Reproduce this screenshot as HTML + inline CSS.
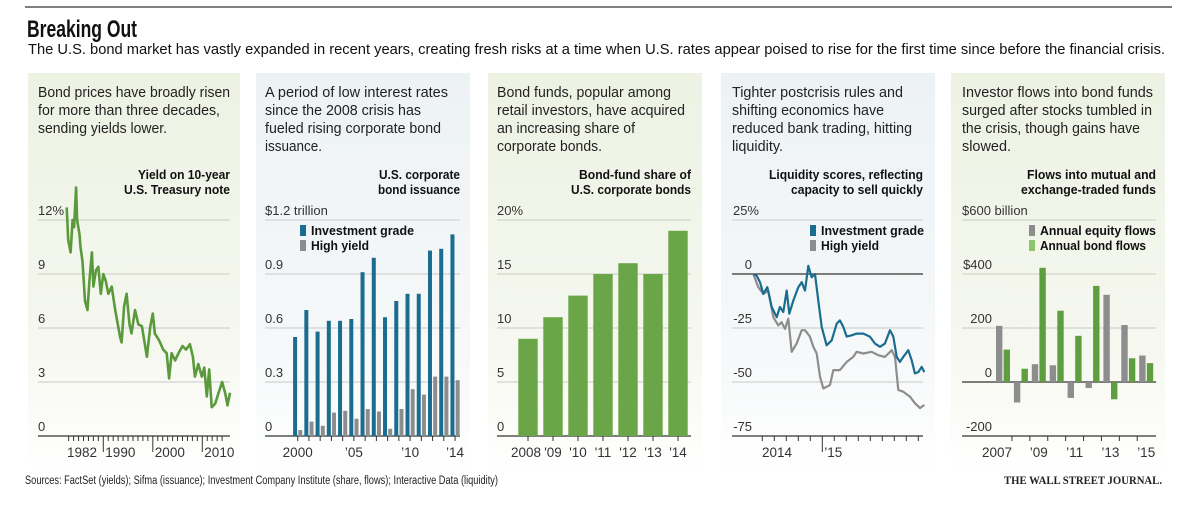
<!DOCTYPE html>
<html><head><meta charset="utf-8"><style>
html,body{margin:0;padding:0;background:#fff;}
svg{display:block;font-family:"Liberation Sans",sans-serif;}
</style></head><body>
<svg id="c" width="1200" height="514" viewBox="0 0 1200 514" xmlns="http://www.w3.org/2000/svg">
<defs>
<linearGradient id="gg" x1="0" y1="0" x2="0" y2="1"><stop offset="0" stop-color="#edf2e3"/><stop offset="0.7" stop-color="#f6f8f0"/><stop offset="1" stop-color="#ffffff"/></linearGradient>
<linearGradient id="gb" x1="0" y1="0" x2="0" y2="1"><stop offset="0" stop-color="#edf2f5"/><stop offset="0.7" stop-color="#f6f8f9"/><stop offset="1" stop-color="#ffffff"/></linearGradient>
</defs>
<line x1="25" y1="7" x2="1172" y2="7" stroke="#333" stroke-width="1.2"/>
<text x="27" y="37" font-size="24" font-weight="bold" textLength="110" lengthAdjust="spacingAndGlyphs" fill="#111">Breaking Out</text>
<text x="28" y="54" font-size="14.5" textLength="1137" lengthAdjust="spacingAndGlyphs" fill="#111">The U.S. bond market has vastly expanded in recent years, creating fresh risks at a time when U.S. rates appear poised to rise for the first time since before the financial crisis.</text>
<g id="panels"></g>
<text x="25" y="484" font-size="11.5" textLength="473" lengthAdjust="spacingAndGlyphs" fill="#222">Sources: FactSet (yields); Sifma (issuance); Investment Company Institute (share, flows); Interactive Data (liquidity)</text>
<text x="1004" y="484" font-size="12" font-weight="bold" font-family="Liberation Serif, serif" textLength="158" lengthAdjust="spacingAndGlyphs" fill="#222">THE WALL STREET JOURNAL.</text>
</svg>
<script>
// ---- Panel 1: 10-year Treasury yield ----
const yieldYears=[1982.6,1982.9,1983.4,1983.8,1984.1,1984.5,1984.7,1985.2,1985.4,1985.8,1986.3,1986.8,1987.2,1987.7,1988.0,1988.5,1989.0,1989.5,1990.0,1990.5,1991.0,1991.7,1992.4,1993.4,1993.7,1994.2,1994.7,1995.3,1995.7,1996.4,1997.1,1997.8,1998.8,1999.5,2000.0,2000.4,2001.3,2002.1,2002.8,2003.3,2003.8,2004.5,2005.2,2006.0,2006.7,2007.5,2008.1,2008.5,2009.2,2009.9,2010.4,2010.9,2011.4,2011.9,2012.6,2013.3,2014.0,2014.6,2015.1,2015.6];
const yieldValues=[12.7,10.9,10.2,12.0,11.6,13.8,12.0,11.2,10.5,9.7,7.5,7.0,8.6,10.2,8.3,9.2,9.4,7.9,9.0,8.6,7.9,8.3,7.0,5.5,5.2,7.2,7.9,6.2,5.7,7.0,6.2,6.1,4.4,6.1,6.8,5.7,5.3,4.8,4.6,3.2,4.6,4.2,4.6,5.0,4.8,5.1,4.4,3.3,4.0,3.3,3.8,2.2,3.7,1.6,1.8,2.4,3.0,2.4,1.7,2.4];
const yieldTicks=[0,3,6,9,12];
// ---- Panel 2: corporate issuance ----
const issYears=[2000,2001,2002,2003,2004,2005,2006,2007,2008,2009,2010,2011,2012,2013,2014];
const issIG=[0.55,0.70,0.58,0.64,0.64,0.65,0.91,0.99,0.66,0.75,0.79,0.79,1.03,1.04,1.12];
const issHY=[0.033,0.08,0.057,0.13,0.14,0.096,0.15,0.136,0.04,0.15,0.26,0.23,0.33,0.33,0.31];
const issTicks=[0,0.3,0.6,0.9,1.2];
const issTickLabels=["0","0.3","0.6","0.9","$1.2 trillion"];
// ---- Panel 3: bond-fund share ----
const shareYears=["2008","'09","'10","'11","'12","'13","'14"];
const shareValues=[9,11,13,15,16,15,19];
const shareTicks=[0,5,10,15,20];
const shareTickLabels=["0","5","10","15","20%"];
// ---- Panel 4: liquidity scores (months relative to Jan 2015) ----
const igMonths=[-5.75,-5.47,-5.19,-4.92,-4.58,-4.22,-3.8,-3.53,-3.25,-2.97,-2.75,-2.42,-2.0,-1.72,-1.44,-1.17,-0.89,-0.61,-0.33,-0.05,0.36,0.78,1.2,1.47,1.75,2.03,2.45,2.86,3.42,3.97,4.39,4.81,5.22,5.64,5.92,6.2,6.47,6.75,7.17,7.45,7.72,8.0,8.28,8.5];
const igValues=[0,-0.8,-3.8,-9.2,-6.1,-15.3,-20,-15.3,-17.6,-7.7,-18.4,-12.3,-6.1,-3.8,-7.7,3.8,-1.5,0,-12.3,-24.5,-33,-30.7,-23,-21.5,-24.5,-29,-28.4,-27.6,-27.6,-29,-32.2,-33.7,-32.2,-26,-29,-38.4,-40.7,-38.4,-35.3,-40,-46,-45.4,-43,-45.4];
const hyMonths=[-5.75,-5.33,-4.92,-4.5,-4.08,-3.67,-3.39,-3.11,-2.83,-2.55,-2.14,-1.72,-1.44,-1.03,-0.75,-0.47,-0.19,0.08,0.64,0.92,1.47,2.03,2.58,2.86,3.42,4.11,4.67,5.22,5.78,6.06,6.33,6.75,7.31,7.72,8.14,8.5];
const hyValues=[0,-6.1,-9.2,-7.7,-20,-23.8,-22.3,-25.4,-20.7,-36,-32.2,-26,-26,-29,-33.7,-36.8,-47.5,-53,-51.4,-44.5,-44.5,-40.7,-38.4,-36,-36.8,-36,-37.6,-38.4,-35.3,-38.4,-53.7,-54.5,-56.8,-59.8,-62.1,-60.6];
const liqTicks=[-75,-50,-25,0,25];
const liqTickLabels=["-75","-50","-25","0","25%"];
// ---- Panel 5: fund flows ----
const flowYears=[2007,2008,2009,2010,2011,2012,2013,2014,2015];
const flowEquity=[208,-76,66,62,-59,-22,323,211,98];
const flowBond=[120,49,423,264,171,356,-64,88,70];
const flowTicks=[-200,0,200,400,600];
const flowTickLabels=["-200","0","200","$400","$600 billion"];

const NS="http://www.w3.org/2000/svg";
const root=document.getElementById('panels');
function mk(tag,attrs,parent,txt){const e=document.createElementNS(NS,tag);for(const k in attrs)e.setAttribute(k,attrs[k]);if(txt!==undefined)e.textContent=txt;(parent||root).appendChild(e);return e;}
const Y0=436,Ytop=220;
function yScale(v,min,max){return Y0-(v-min)/(max-min)*(Y0-Ytop);}

function panelBg(x,w,fill,name){
  const r=mk('rect',{x:x,y:73,width:w,height:400,fill:fill});
  
  
}
function bodyText(x,lines,widths,name){
  lines.forEach((s,i)=>{
    const t=mk('text',{x:x,y:97+i*18,'font-size':15,fill:'#222',textLength:widths[i],lengthAdjust:'spacingAndGlyphs'},root,s);
    
    
  });
}
function chartTitle(xr,lines,widths,name){
  lines.forEach((s,i)=>{
    const t=mk('text',{x:xr-widths[i],y:179+i*15,'font-size':13,'font-weight':'bold',fill:'#111',textLength:widths[i],lengthAdjust:'spacingAndGlyphs'},root,s);
    
    
  });
}
function grid(x1,x2,ticks,labels,min,max,lx,anchor,dark,name){
  ticks.forEach((v,i)=>{
    const y=yScale(v,min,max);
    const isDark=dark.includes(v);
    const l=mk('line',{x1:x1,x2:x2,y1:y,y2:y,stroke:isDark?'#333':'#c9c9c9','stroke-width':isDark?1.3:1});
    
    
    const t=mk('text',{x:lx,y:y-5,'font-size':13,fill:'#333','text-anchor':anchor},root,labels[i]);
    
    
  });
}
function tickLabel(x,s,anchor,name){
  const t=mk('text',{x:x,y:457,'font-size':13.5,fill:'#333','text-anchor':anchor},root,s);
  
  
}
function legend(x,y,color,s,w,name){
  const r=mk('rect',{x:x,y:y-10,width:6,height:11,fill:color});
  
  
  const t=mk('text',{x:x+11,y:y,'font-size':13,'font-weight':'bold',fill:'#111',textLength:w,lengthAdjust:'spacingAndGlyphs'},root,s);
  
  
}

// Backgrounds
panelBg(28,212,'url(#gg)','panel-yields-bg');
panelBg(256,214,'url(#gb)','panel-issuance-bg');
panelBg(488,214,'url(#gg)','panel-share-bg');
panelBg(721,214,'url(#gb)','panel-liquidity-bg');
panelBg(951,214,'url(#gg)','panel-flows-bg');

// ---------- Panel 1 ----------
bodyText(38,["Bond prices have broadly risen","for more than three decades,","sending yields lower."],[192,182,129],'yields-text');
chartTitle(230,["Yield on 10-year","U.S. Treasury note"],[92,106],'yields-title');
grid(38,230,yieldTicks,["0","3","6","9","12%"],0,12,38,'start',[0],'yields');
const yx=yr=>103.3+(yr-1990)*4.95;
let d='';
yieldYears.forEach((yr,i)=>{d+=(i?'L':'M')+yx(yr).toFixed(1)+','+yScale(yieldValues[i],0,12).toFixed(1);});
const yl=mk('path',{d:d,fill:'none',stroke:'#5b9a3c','stroke-width':2.6,'stroke-linejoin':'round'});


for(let yr=1983;yr<=2014;yr++){
  const major=yr%10===0;
  const tk=mk('line',{x1:yx(yr),x2:yx(yr),y1:Y0,y2:major?452:441,stroke:'#333','stroke-width':1});
  
  
}
tickLabel(82,'1982','middle','yields-x-label-1982');
tickLabel(yx(1990)+2,'1990','start','yields-x-label-1990');
tickLabel(yx(2000)+2,'2000','start','yields-x-label-2000');
tickLabel(yx(2010)+2,'2010','start','yields-x-label-2010');

// ---------- Panel 2 ----------
bodyText(265,["A period of low interest rates","since the 2008 crisis has","fueled rising corporate bond","issuance."],[183,156,176,57],'issuance-text');
chartTitle(460,["U.S. corporate","bond issuance"],[81,82],'issuance-title');
grid(265,460,issTicks,issTickLabels,0,1.2,265,'start',[0],'issuance');
const ix=yr=>297.7+(yr-2000)*11.24;
issYears.forEach((yr,i)=>{
  const x=ix(yr);
  const b1=mk('rect',{x:x-4.6,y:yScale(issIG[i],0,1.2),width:4,height:Y0-yScale(issIG[i],0,1.2),fill:'#1b6d8f'});
  
  
  const b2=mk('rect',{x:x+0.6,y:yScale(issHY[i],0,1.2),width:4,height:Y0-yScale(issHY[i],0,1.2),fill:'#8d8d8d'});
  
  
  const tk=mk('line',{x1:x,x2:x,y1:Y0,y2:441,stroke:'#333'});
  
  
});
tickLabel(ix(2000),'2000','middle','issuance-x-label-2000');
tickLabel(ix(2005),'\u201905','middle','issuance-x-label-05');
tickLabel(ix(2010),'\u201910','middle','issuance-x-label-10');
tickLabel(ix(2014),'\u201914','middle','issuance-x-label-14');
legend(300,235,'#1b6d8f','Investment grade',103,'issuance-legend-investment-grade');
legend(300,250,'#8d8d8d','High yield',58,'issuance-legend-high-yield');

// ---------- Panel 3 ----------
bodyText(497,["Bond funds, popular among","retail investors, have acquired","an increasing share of","corporate bonds."],[174,188,138,105],'share-text');
chartTitle(691,["Bond-fund share of","U.S. corporate bonds"],[112,120],'share-title');
grid(497,691,shareTicks,shareTickLabels,0,20,497,'start',[0],'share');
const sx=i=>528+i*25;
shareValues.forEach((v,i)=>{
  const b=mk('rect',{x:sx(i)-9.7,y:yScale(v,0,20),width:19.4,height:Y0-yScale(v,0,20),fill:'#6aa547'});
  
  
  const tk=mk('line',{x1:sx(i),x2:sx(i),y1:Y0,y2:441,stroke:'#333'});
  
  
  tickLabel(sx(i)+(i===0?-2:0),shareYears[i],'middle','share-x-label');
});

// ---------- Panel 4 ----------
bodyText(732,["Tighter postcrisis rules and","shifting economics have","reduced bank trading, hitting","liquidity."],[171,152,180,51],'liquidity-text');
chartTitle(923,["Liquidity scores, reflecting","capacity to sell quickly"],[154,132],'liquidity-title');
const lmin=-75,lmax=25;
liqTicks.forEach((v,i)=>{
  const y=yScale(v,lmin,lmax);
  const l=mk('line',{x1:732,x2:923,y1:y,y2:y,stroke:(v===0||v===-75)?'#333':'#c9c9c9','stroke-width':(v===0||v===-75)?1.3:1});
  
  
  const t=mk('text',{x:v===25?759:752,y:y-5,'font-size':13,fill:'#333','text-anchor':'end'},root,liqTickLabels[i]);
  
  
});
const lx=m=>822.3+m*12;
function liqLine(ms,vs,color,name){
  let p='';ms.forEach((m,i)=>{p+=(i?'L':'M')+lx(m).toFixed(1)+','+yScale(vs[i],lmin,lmax).toFixed(1);});
  const e=mk('path',{d:p,fill:'none',stroke:color,'stroke-width':2.2,'stroke-linejoin':'round'});
  
  
}
liqLine(hyMonths,hyValues,'#8d8d8d','high-yield-liquidity-line');
liqLine(igMonths,igValues,'#1b6d8f','investment-grade-liquidity-line');
for(let m=-5;m<=8;m++){
  const tk=mk('line',{x1:lx(m),x2:lx(m),y1:Y0,y2:m===0?452:441,stroke:'#333'});
  
  
}
tickLabel(777,'2014','middle','liquidity-x-label-2014');
tickLabel(lx(0)+2,'\u201915','start','liquidity-x-label-15');
legend(810,235,'#1b6d8f','Investment grade',103,'liquidity-legend-investment-grade');
legend(810,250,'#8d8d8d','High yield',58,'liquidity-legend-high-yield');

// ---------- Panel 5 ----------
bodyText(962,["Investor flows into bond funds","surged after stocks tumbled in","the crisis, though gains have","slowed."],[191,190,178,49],'flows-text');
chartTitle(1156,["Flows into mutual and","exchange-traded funds"],[129,135],'flows-title');
const fmin=-200,fmax=600;
flowTicks.forEach((v,i)=>{
  const y=yScale(v,fmin,fmax);
  const l=mk('line',{x1:962,x2:1156,y1:y,y2:y,stroke:(v===0||v===-200)?'#333':'#c9c9c9','stroke-width':(v===0||v===-200)?1.3:1});
  
  
  const big=v===600;
  const t=mk('text',{x:big?962:992,y:y-5,'font-size':13,fill:'#333','text-anchor':big?'start':'end'},root,flowTickLabels[i]);
  
  
});
const fx=i=>1003+i*17.9;
const z=yScale(0,fmin,fmax);
flowYears.forEach((yr,i)=>{
  const c=fx(i);
  const ye=yScale(flowEquity[i],fmin,fmax);
  const b1=mk('rect',{x:c-7,y:Math.min(ye,z),width:6.4,height:Math.abs(z-ye),fill:'#8d8d8d'});
  
  
  const yb=yScale(flowBond[i],fmin,fmax);
  const b2=mk('rect',{x:c+0.6,y:Math.min(yb,z),width:6.4,height:Math.abs(z-yb),fill:'#5f9e3f'});
  
  
  if(i>0){
    const tk=mk('line',{x1:c-8.95,x2:c-8.95,y1:Y0,y2:441,stroke:'#333'});
    
    
  }
});
tickLabel(fx(0)-6,'2007','middle','flows-x-label-2007');
tickLabel(fx(2),'\u201909','middle','flows-x-label-09');
tickLabel(fx(4),'\u201911','middle','flows-x-label-11');
tickLabel(fx(6),'\u201913','middle','flows-x-label-13');
tickLabel(fx(8),'\u201915','middle','flows-x-label-15');
legend(1029,235,'#8d8d8d','Annual equity flows',116,'flows-legend-equity');
legend(1029,250,'#8cc46a','Annual bond flows',106,'flows-legend-bond');
</script>
</body></html>
